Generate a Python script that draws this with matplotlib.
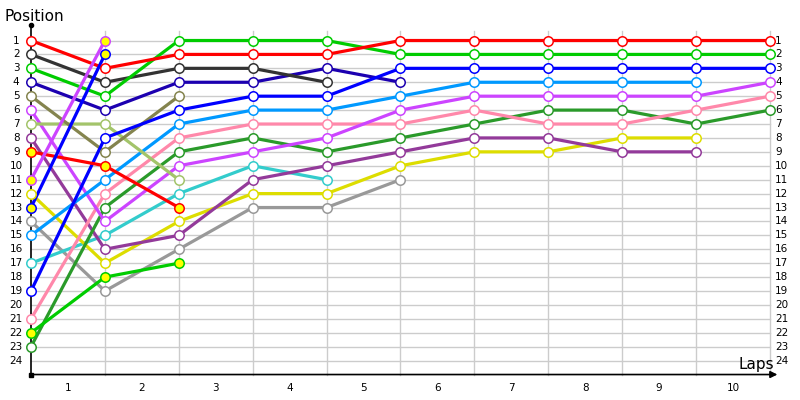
import matplotlib.pyplot as plt

# laps (0 = starting grid)
laps = list(range(11))
lap_labels = [str(i) for i in range(1, 11)]
n_positions = 24

# position per lap for every driver (list ends when driver drops out)
red = [1, 3, 2, 2, 2, 1, 1, 1, 1, 1, 1]
darkgray = [2, 4, 3, 3, 4]
green = [3, 5, 1, 1, 1, 2, 2, 2, 2, 2, 2]
navy = [4, 6, 4, 4, 3, 4]
olive = [5, 9, 5]
violet = [6, 14, 10, 9, 8, 6, 5, 5, 5, 5, 4]
lightgreen = [7, 7, 11]
purple = [8, 16, 15, 11, 10, 9, 8, 8, 9, 9]
red_b = [9, 10, 13]
violet_b = [11, 1]
yellow = [12, 17, 14, 12, 12, 10, 9, 9, 8, 8]
blue_b = [13, 2]
gray = [14, 19, 16, 13, 13, 11]
lightblue = [15, 11, 7, 6, 6, 5, 4, 4, 4, 4]
cyan = [17, 15, 12, 10, 11]
blue = [19, 8, 6, 5, 5, 3, 3, 3, 3, 3, 3]
pink = [21, 12, 8, 7, 7, 7, 6, 7, 7, 6, 5]
green_b = [22, 18, 17]
darkgreen = [23, 13, 9, 8, 9, 8, 7, 6, 6, 7, 6]

# (positions, colour, filled with yellow)
drivers = [
    (gray, "#999999", False),
    (cyan, "#33cccc", False),
    (yellow, "#dddd00", False),
    (purple, "#933a9a", False),
    (darkgreen, "#2a9a2a", False),
    (pink, "#ff88aa", False),
    (violet, "#cc44ff", False),
    (lightblue, "#0099ff", False),
    (lightgreen, "#a3c46a", False),
    (olive, "#84844e", False),
    (navy, "#1c00b0", False),
    (darkgray, "#333333", False),
    (blue, "#0000ff", False),
    (green_b, "#00cc00", True),
    (red_b, "#ff0000", True),
    (green, "#00cc00", False),
    (red, "#ff0000", False),
    (blue_b, "#0000ff", True),
    (violet_b, "#cc44ff", True),
]

fig = plt.figure(figsize=(8, 4), dpi=100)
ax = fig.add_axes([0, 0, 1, 1])
ax.set_xlim(-0.4195, 10.406)
ax.set_ylim(26.83, -1.911)
ax.axis("off")

grid = "#cccccc"
for p in range(1, n_positions + 1):
    ax.plot([0, 10], [p, p], color=grid, lw=1, zorder=1)
for x in laps[1:]:
    ax.plot([x, x], [0.3, 25], color=grid, lw=1, zorder=1)

# axes with arrows
ax.plot([0, 0], [25, -0.12], color="black", lw=1.2, zorder=2)
ax.plot([0], [-0.12], marker="o", ms=3, color="black", zorder=2)
ax.plot([0], [25], marker="s", ms=3, color="black", zorder=2)
ax.annotate("", xy=(10.1, 25), xytext=(0, 25),
            arrowprops=dict(arrowstyle="-|>", color="black", lw=1.2,
                            mutation_scale=10, shrinkA=0, shrinkB=0))

for pos, col, filled in drivers:
    x = laps[:len(pos)]
    ax.plot(x, pos, color=col, lw=2.3, zorder=3, solid_capstyle="round")
    ax.plot(x, pos, ls="none", marker="o", ms=6.8, mew=1.1, mec=col,
            mfc="#ffff00" if filled else "white", zorder=4)

# labels
for p in range(1, n_positions + 1):
    ax.text(-0.2, p, str(p), ha="center", va="center", fontsize=7.5)
    ax.text(10.07, p, str(p), ha="left", va="center", fontsize=7.5)
for i, lab in enumerate(lap_labels):
    ax.text(i + 0.5, 25.95, lab, ha="center", va="center", fontsize=7.5)

ax.text(-0.36, -0.75, "Position", ha="left", va="center", fontsize=11)
ax.text(10.06, 24.25, "Laps", ha="right", va="center", fontsize=11)

fig.savefig("out.png", dpi=100)
